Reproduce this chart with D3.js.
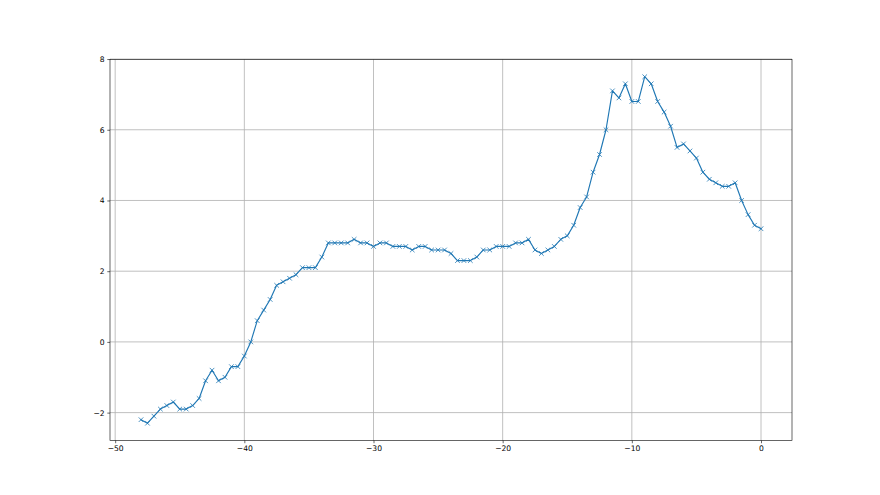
<!DOCTYPE html>
<html><head><meta charset="utf-8">
<script src="https://cdn.jsdelivr.net/npm/d3@7"></script>
<style>body{margin:0;background:#fff}svg{display:block}text{font-family:"DejaVu Sans",sans-serif}</style>
</head><body>
<svg id="c" width="880" height="495"></svg>
<script>
const xStart = -48, xStep = 0.5;
const yValues = [
-2.2,-2.3,-2.1,-1.9,-1.8,-1.7,-1.9,-1.9,-1.8,-1.6,
-1.1,-0.8,-1.1,-1.0,-0.7,-0.7,-0.4,0.0,0.6,0.9,
1.2,1.6,1.7,1.8,1.9,2.1,2.1,2.1,2.4,2.8,
2.8,2.8,2.8,2.9,2.8,2.8,2.7,2.8,2.8,2.7,
2.7,2.7,2.6,2.7,2.7,2.6,2.6,2.6,2.5,2.3,
2.3,2.3,2.4,2.6,2.6,2.7,2.7,2.7,2.8,2.8,
2.9,2.6,2.5,2.6,2.7,2.9,3.0,3.3,3.8,4.1,
4.8,5.3,6.0,7.1,6.9,7.3,6.8,6.8,7.5,7.3,
6.8,6.5,6.1,5.5,5.6,5.4,5.2,4.8,4.6,4.5,
4.4,4.4,4.5,4.0,3.6,3.3,3.2];
const xValues = yValues.map((_, i) => xStart + i * xStep);
const xTicks = [-50, -40, -30, -20, -10, 0];
const yTicks = [-2, 0, 2, 4, 6, 8];

const svg = d3.select("#c");
const L = 110, R = 792, T = 59.4, B = 440.55;
const xmin = d3.min(xValues), xmax = d3.max(xValues);
const ymin = d3.min(yValues), ymax = d3.max(yValues);
const mx = (xmax - xmin) * 0.05, my = (ymax - ymin) * 0.05;
const x = d3.scaleLinear().domain([xmin - mx, xmax + mx]).range([L, R]);
const y = d3.scaleLinear().domain([ymin - my, ymax + my]).range([B, T]);
const fmt = v => (v < 0 ? "\u2212" : "") + Math.abs(v);

// grid
const g = svg.append("g");
g.selectAll(".gx").data(xTicks).enter().append("line")
  .attr("x1", d => x(d)).attr("x2", d => x(d)).attr("y1", T).attr("y2", B)
  .attr("stroke", "#b0b0b0").attr("stroke-width", 0.8);
g.selectAll(".gy").data(yTicks).enter().append("line")
  .attr("y1", d => y(d)).attr("y2", d => y(d)).attr("x1", L).attr("x2", R)
  .attr("stroke", "#b0b0b0").attr("stroke-width", 0.8);

// line
const line = d3.line().x((d, i) => x(xValues[i])).y(d => y(d));
svg.append("path").datum(yValues).attr("d", line)
  .attr("fill", "none").attr("stroke", "#1f77b4").attr("stroke-width", 1.15)
  .attr("stroke-linejoin", "round").attr("stroke-linecap", "square");
const ms = 2.3;
svg.append("g").selectAll("path").data(yValues).enter().append("path")
  .attr("d", (d, i) => {
    const cx = x(xValues[i]), cy = y(d);
    return `M${cx-ms},${cy-ms}L${cx+ms},${cy+ms}M${cx-ms},${cy+ms}L${cx+ms},${cy-ms}`;
  })
  .attr("stroke", "#1f77b4").attr("stroke-width", 0.8).attr("fill", "none");

// axes
const xa = svg.append("g").attr("transform", `translate(0,${B})`)
  .call(d3.axisBottom(x).tickValues(xTicks).tickFormat(fmt).tickSize(2.7).tickPadding(2.7));
const ya = svg.append("g").attr("transform", `translate(${L},0)`)
  .call(d3.axisLeft(y).tickValues(yTicks).tickFormat(fmt).tickSize(2.7).tickPadding(2.7));
[xa, ya].forEach(a => {
  a.select(".domain").remove();
  a.selectAll("text").attr("font-size", 7.6).attr("fill", "#000").attr("font-family", "DejaVu Sans");
  a.selectAll("line").attr("stroke", "#000").attr("stroke-width", 0.6);
});
svg.append("rect").attr("x", L).attr("y", T).attr("width", R - L).attr("height", B - T)
  .attr("fill", "none").attr("stroke", "#000").attr("stroke-width", 0.6);
</script>
</body></html>
